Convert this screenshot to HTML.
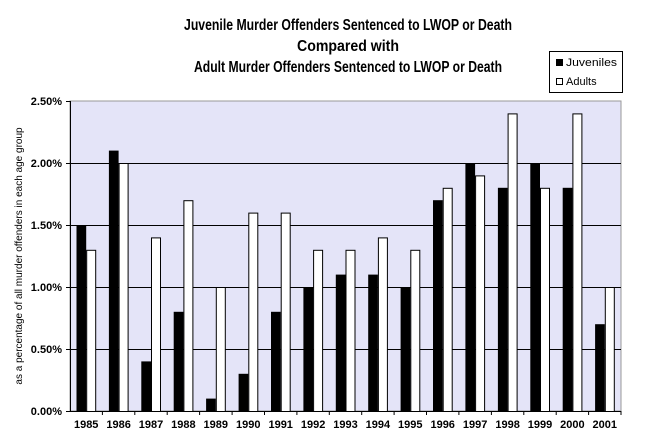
<!DOCTYPE html>
<html><head><style>body{margin:0;background:#fff}svg{display:block}</style></head><body>
<svg width="650" height="445" xmlns="http://www.w3.org/2000/svg" font-family="Liberation Sans, Arial, sans-serif">
<g font-weight="bold" font-size="16" text-anchor="middle" fill="#000">
<text x="348" y="30" textLength="328" lengthAdjust="spacingAndGlyphs">Juvenile Murder Offenders Sentenced to LWOP or Death</text>
<text x="348" y="51" textLength="102" lengthAdjust="spacingAndGlyphs">Compared with</text>
<text x="348" y="72" textLength="308" lengthAdjust="spacingAndGlyphs">Adult Murder Offenders Sentenced to LWOP or Death</text>
</g>
<rect x="549.5" y="51.5" width="73" height="41" fill="#fff" stroke="#000"/>
<rect x="556" y="59" width="7" height="7" fill="#000"/>
<text x="566" y="66" font-size="11" textLength="51" lengthAdjust="spacingAndGlyphs">Juveniles</text>
<rect x="556.5" y="78.5" width="6" height="6" fill="#fff" stroke="#000"/>
<text x="566" y="85" font-size="11">Adults</text>
<rect x="70" y="101" width="551" height="310" fill="#e4e4f8" stroke="#999"/>
<g stroke="#000" stroke-width="1">
<line x1="70" y1="163.5" x2="621" y2="163.5"/><line x1="70" y1="225.5" x2="621" y2="225.5"/>
<line x1="70" y1="287.5" x2="621" y2="287.5"/><line x1="70" y1="349.5" x2="621" y2="349.5"/>
</g>
<g fill="#000">
<rect x="76.5" y="225" width="9.7" height="186"/>
<rect x="108.9" y="150.6" width="9.7" height="260.4"/>
<rect x="141.3" y="361.4" width="9.7" height="49.6"/>
<rect x="173.7" y="311.8" width="9.7" height="99.2"/>
<rect x="206.1" y="398.6" width="9.7" height="12.4"/>
<rect x="238.6" y="373.8" width="9.7" height="37.2"/>
<rect x="271.0" y="311.8" width="9.7" height="99.2"/>
<rect x="303.4" y="287" width="9.7" height="124"/>
<rect x="335.8" y="274.6" width="9.7" height="136.4"/>
<rect x="368.2" y="274.6" width="9.7" height="136.4"/>
<rect x="400.6" y="287" width="9.7" height="124"/>
<rect x="433.0" y="200.2" width="9.7" height="210.8"/>
<rect x="465.4" y="163" width="9.7" height="248"/>
<rect x="497.9" y="187.8" width="9.7" height="223.2"/>
<rect x="530.3" y="163" width="9.7" height="248"/>
<rect x="562.7" y="187.8" width="9.7" height="223.2"/>
<rect x="595.1" y="324.2" width="9.7" height="86.8"/>
</g>
<g fill="#fff" stroke="#000">
<rect x="86.7" y="250.3" width="9" height="161.2"/>
<rect x="119.1" y="163.5" width="9" height="248"/>
<rect x="151.5" y="237.9" width="9" height="173.6"/>
<rect x="183.9" y="200.7" width="9" height="210.8"/>
<rect x="216.3" y="287.5" width="9" height="124"/>
<rect x="248.8" y="213.1" width="9" height="198.4"/>
<rect x="281.2" y="213.1" width="9" height="198.4"/>
<rect x="313.6" y="250.3" width="9" height="161.2"/>
<rect x="346.0" y="250.3" width="9" height="161.2"/>
<rect x="378.4" y="237.9" width="9" height="173.6"/>
<rect x="410.8" y="250.3" width="9" height="161.2"/>
<rect x="443.2" y="188.3" width="9" height="223.2"/>
<rect x="475.6" y="175.9" width="9" height="235.6"/>
<rect x="508.1" y="113.9" width="9" height="297.6"/>
<rect x="540.5" y="188.3" width="9" height="223.2"/>
<rect x="572.9" y="113.9" width="9" height="297.6"/>
<rect x="605.3" y="287.5" width="9" height="124"/>
</g>
<line x1="70.5" y1="101" x2="70.5" y2="411" stroke="#000"/>
<line x1="70" y1="411.5" x2="621" y2="411.5" stroke="#000"/>
<g font-size="11" font-weight="bold" text-anchor="end">
<text x="62" y="105">2.50%</text><text x="62" y="167">2.00%</text><text x="62" y="229">1.50%</text>
<text x="62" y="291">1.00%</text><text x="62" y="353">0.50%</text><text x="62" y="415">0.00%</text>
</g>
<g stroke="#000"><line x1="66" y1="101.5" x2="70" y2="101.5"/><line x1="66" y1="163.5" x2="70" y2="163.5"/><line x1="66" y1="225.5" x2="70" y2="225.5"/><line x1="66" y1="287.5" x2="70" y2="287.5"/><line x1="66" y1="349.5" x2="70" y2="349.5"/><line x1="66" y1="411.5" x2="70" y2="411.5"/>
<line x1="102.4" y1="411" x2="102.4" y2="415"/><line x1="134.8" y1="411" x2="134.8" y2="415"/><line x1="167.2" y1="411" x2="167.2" y2="415"/><line x1="199.6" y1="411" x2="199.6" y2="415"/><line x1="232.1" y1="411" x2="232.1" y2="415"/><line x1="264.5" y1="411" x2="264.5" y2="415"/><line x1="296.9" y1="411" x2="296.9" y2="415"/><line x1="329.3" y1="411" x2="329.3" y2="415"/><line x1="361.7" y1="411" x2="361.7" y2="415"/><line x1="394.1" y1="411" x2="394.1" y2="415"/><line x1="426.5" y1="411" x2="426.5" y2="415"/><line x1="458.9" y1="411" x2="458.9" y2="415"/><line x1="491.4" y1="411" x2="491.4" y2="415"/><line x1="523.8" y1="411" x2="523.8" y2="415"/><line x1="556.2" y1="411" x2="556.2" y2="415"/><line x1="588.6" y1="411" x2="588.6" y2="415"/><line x1="621" y1="411" x2="621" y2="415"/>
</g>
<text transform="translate(22,256) rotate(-90)" font-size="10" text-anchor="middle">as a percentage of all murder offenders in each age group</text>
<g font-size="11" font-weight="bold" text-anchor="middle">
<text x="86.2" y="428">1985</text><text x="118.6" y="428">1986</text><text x="151.0" y="428">1987</text><text x="183.4" y="428">1988</text><text x="215.8" y="428">1989</text><text x="248.3" y="428">1990</text><text x="280.7" y="428">1991</text><text x="313.1" y="428">1992</text><text x="345.5" y="428">1993</text><text x="377.9" y="428">1994</text><text x="410.3" y="428">1995</text><text x="442.7" y="428">1996</text><text x="475.1" y="428">1997</text><text x="507.6" y="428">1998</text><text x="540.0" y="428">1999</text><text x="572.4" y="428">2000</text><text x="604.8" y="428">2001</text>
</g>
</svg>
</body></html>
